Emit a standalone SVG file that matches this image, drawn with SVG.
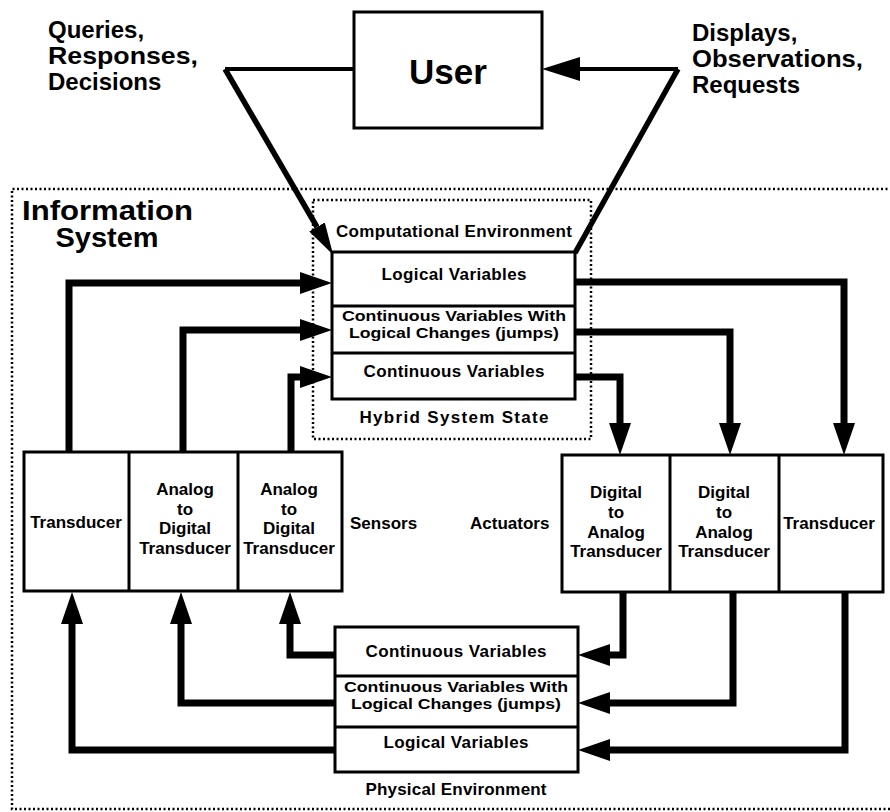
<svg xmlns="http://www.w3.org/2000/svg" width="890" height="812" viewBox="0 0 890 812">
<style>
text{font-family:"Liberation Sans",Arial,sans-serif;font-weight:bold;fill:#000}
.s{font-size:17px}
.t{font-size:15.5px}
.m{font-size:24px}
.c{text-anchor:middle}
.box{fill:#fff;stroke:#000;stroke-width:3}
.dot{fill:none;stroke:#000;stroke-width:2.5;stroke-dasharray:2 2.5}
.w{fill:none;stroke:#000;stroke-width:7;stroke-linejoin:miter}
.u{fill:none;stroke:#000;stroke-width:4}
.d{fill:none;stroke:#000;stroke-width:5.5}
</style>
<defs>
<marker id="ah" markerUnits="userSpaceOnUse" markerWidth="32" markerHeight="22" refX="0" refY="11" orient="auto"><path d="M0,0 L32,11 L0,22 z" fill="#000"/></marker>
<marker id="ahU" markerUnits="userSpaceOnUse" markerWidth="38" markerHeight="24" refX="0" refY="12" orient="auto"><path d="M0,0 L38,12 L0,24 z" fill="#000"/></marker>
<marker id="ahD" markerUnits="userSpaceOnUse" markerWidth="32" markerHeight="18" refX="0" refY="9" orient="auto"><path d="M0,0 L32,9 L0,18 z" fill="#000"/></marker>
</defs>

<path class="dot" d="M892,189 H12 V809 H892"/>
<text x="22" y="220" style="font-size:27px" textLength="171" lengthAdjust="spacingAndGlyphs">Information</text>
<text x="107" y="247" class="c" style="font-size:27px" textLength="103" lengthAdjust="spacingAndGlyphs">System</text>

<g id="labels">
<text class="m" x="48" y="38">Queries,</text>
<text class="m" x="48" y="64" textLength="150" lengthAdjust="spacingAndGlyphs">Responses,</text>
<text class="m" x="48" y="90">Decisions</text>
<text class="m" x="692" y="41">Displays,</text>
<text class="m" x="692" y="67" textLength="171" lengthAdjust="spacingAndGlyphs">Observations,</text>
<text class="m" x="692" y="93">Requests</text>
</g>

<g id="user">
<rect class="box" x="354" y="12" width="188" height="116" stroke-width="3.5"/>
<text x="448" y="84" class="c" style="font-size:35px">User</text>
</g>

<g id="hybrid">
<rect class="dot" x="313" y="200" width="278" height="239"/>
<text class="s c" x="454" y="237" textLength="236">Computational Environment</text>
<rect class="box" x="332" y="252" width="243" height="147"/>
<line x1="332" y1="306" x2="575" y2="306" stroke="#000" stroke-width="3"/>
<line x1="332" y1="353" x2="575" y2="353" stroke="#000" stroke-width="3"/>
<text class="s c" x="454" y="280" textLength="145">Logical Variables</text>
<text class="t c" x="454" y="321" textLength="224" lengthAdjust="spacingAndGlyphs">Continuous Variables With</text>
<text class="t c" x="454" y="338" textLength="210" lengthAdjust="spacingAndGlyphs">Logical Changes (jumps)</text>
<text class="s c" x="454" y="377" textLength="181">Continuous Variables</text>
<text class="s c" x="454" y="423" textLength="189">Hybrid System State</text>
</g>

<g id="sensors">
<rect class="box" x="24" y="452" width="318" height="139"/>
<line x1="129" y1="452" x2="129" y2="591" stroke="#000" stroke-width="3"/>
<line x1="238" y1="452" x2="238" y2="591" stroke="#000" stroke-width="3"/>
<text class="s c" x="76" y="528">Transducer</text>
<text class="s c" x="185" y="495">Analog</text>
<text class="s c" x="185" y="515">to</text>
<text class="s c" x="185" y="534">Digital</text>
<text class="s c" x="185" y="554">Transducer</text>
<text class="s c" x="289" y="495">Analog</text>
<text class="s c" x="289" y="515">to</text>
<text class="s c" x="289" y="534">Digital</text>
<text class="s c" x="289" y="554">Transducer</text>
<text class="s" x="350" y="529">Sensors</text>
</g>

<g id="actuators">
<rect class="box" x="562" y="455" width="321" height="137"/>
<line x1="670" y1="455" x2="670" y2="592" stroke="#000" stroke-width="3"/>
<line x1="779" y1="455" x2="779" y2="592" stroke="#000" stroke-width="3"/>
<text class="s" x="470" y="529">Actuators</text>
<text class="s c" x="616" y="498">Digital</text>
<text class="s c" x="616" y="518">to</text>
<text class="s c" x="616" y="538">Analog</text>
<text class="s c" x="616" y="557">Transducer</text>
<text class="s c" x="724" y="498">Digital</text>
<text class="s c" x="724" y="518">to</text>
<text class="s c" x="724" y="538">Analog</text>
<text class="s c" x="724" y="557">Transducer</text>
<text class="s c" x="829" y="529">Transducer</text>
</g>

<g id="physical">
<rect class="box" x="335" y="627" width="243" height="145"/>
<line x1="335" y1="676" x2="578" y2="676" stroke="#000" stroke-width="3"/>
<line x1="335" y1="727" x2="578" y2="727" stroke="#000" stroke-width="3"/>
<text class="s c" x="456" y="657" textLength="181">Continuous Variables</text>
<text class="t c" x="456" y="692" textLength="224" lengthAdjust="spacingAndGlyphs">Continuous Variables With</text>
<text class="t c" x="456" y="709" textLength="210" lengthAdjust="spacingAndGlyphs">Logical Changes (jumps)</text>
<text class="s c" x="456" y="748" textLength="145">Logical Variables</text>
<text class="s c" x="456" y="795" textLength="181">Physical Environment</text>
</g>

<g id="connectors">
<path class="u" d="M354,69 H225"/>
<path class="d" d="M225,69 L317,227" marker-end="url(#ahD)"/>
<path class="d" d="M575,253 L678,69"/>
<path class="u" d="M678,69 H580" marker-end="url(#ahU)"/>

<path class="w" d="M69,452 V283 H300" marker-end="url(#ah)"/>
<path class="w" d="M183,452 V330 H300" marker-end="url(#ah)"/>
<path class="w" d="M291,452 V377 H300" marker-end="url(#ah)"/>

<path class="w" d="M575,282 H844 V423" marker-end="url(#ah)"/>
<path class="w" d="M575,332 H730 V423" marker-end="url(#ah)"/>
<path class="w" d="M575,377 H620 V423" marker-end="url(#ah)"/>

<path class="w" d="M335,655 H290 V624" marker-end="url(#ah)"/>
<path class="w" d="M335,703 H181 V624" marker-end="url(#ah)"/>
<path class="w" d="M335,750 H72 V624" marker-end="url(#ah)"/>

<path class="w" d="M623,592 V655 H610" marker-end="url(#ah)"/>
<path class="w" d="M733,592 V703 H610" marker-end="url(#ah)"/>
<path class="w" d="M845,592 V750 H610" marker-end="url(#ah)"/>
</g>
</svg>
